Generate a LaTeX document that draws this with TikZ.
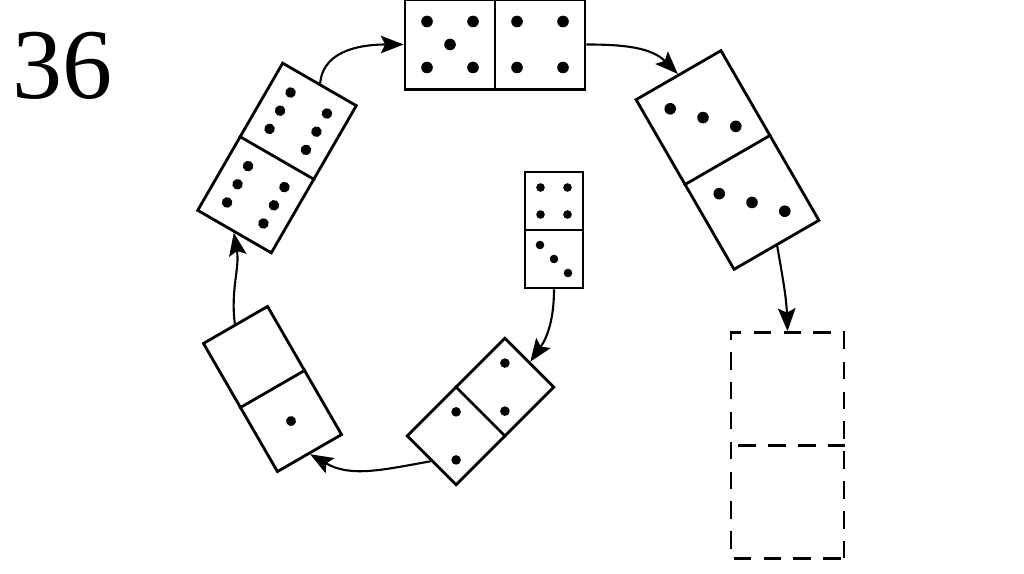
\documentclass[tikz,border=0pt]{standalone}
\usepackage{fontspec}
\setmainfont{Liberation Serif}
\usetikzlibrary{arrows.meta}

\begin{document}
\begin{tikzpicture}[
    x=0.02cm, y=0.02cm,
    >={Stealth[length=13pt,width=10pt,inset=2.5pt]},
    domino/.style={
        draw,
        line width=1.6pt,
        inner sep=0pt,
        minimum width=#1*0.04cm,
        minimum height=#1*0.02cm
    },
    blank/.style={
        domino=#1,
        dash pattern=on 10pt off 7pt
    },
    halfline/.style={
        line width=1.6pt
    },
    flow/.style={
        ->,
        line width=1.2pt
    },
    pip/.style={
        fill=black
    }
]

\useasboundingbox (0,0) rectangle (1024,-574);

\node[font=\fontsize{57}{60}\selectfont] (num) at (63,-66) {36};

%-------------------------------------------------
% Dominoes on the ring
%-------------------------------------------------

% 5 | 4
\node[domino=90] (D54) at (495,-44.5) {};
\draw[halfline] (D54.north) -- (D54.south);
\begin{scope}[shift={(D54.center)}]
  \foreach \u/\w in {-68/23,-22/23,-45/0,-68/-23,-22/-23,
                     22/23,68/23,22/-23,68/-23}
    \fill[pip] (\u,\w) circle (5.8);
\end{scope}

% 3 | 3
\node[domino=98,rotate=-60] (D33) at (727.5,-160) {};
\draw[halfline] (D33.north) -- (D33.south);
\begin{scope}[shift={(D33.center)},rotate=-60]
  \foreach \u/\w in {73/24,49/0,25/-24,-25/24,-49/0,-73/-24}
    \fill[pip] (\u,\w) circle (5.8);
\end{scope}

% 6 | 6
\node[domino=85,rotate=60] (D66) at (277,-158) {};
\draw[halfline] (D66.north) -- (D66.south);
\begin{scope}[shift={(D66.center)},rotate=60]
  \foreach \u in {21.5,42.5,63.5,-21.5,-42.5,-63.5}
    \foreach \w in {21,-21}
      \fill[pip] (\u,\w) circle (5.3);
\end{scope}

% 2 | 2
\node[domino=69,rotate=45] (D22) at (480.5,-411.5) {};
\draw[halfline] (D22.north) -- (D22.south);
\begin{scope}[shift={(D22.center)},rotate=45]
  \foreach \u/\w in {51.5/17,17.5/-17,-17.5/17,-51.5/-17}
    \fill[pip] (\u,\w) circle (4.8);
\end{scope}

% 0 | 1
\node[domino=74,rotate=-60] (D01) at (272.5,-389) {};
\draw[halfline] (D01.north) -- (D01.south);
\fill[pip,shift={(D01.center)},rotate=-60] (37,0) circle (5);

%-------------------------------------------------
% Middle domino and the empty one
%-------------------------------------------------

% 4 | 3
\node[domino=58,rotate=-90] (D43) at (554,-230) {};
\draw[halfline] (D43.north) -- (D43.south);
\begin{scope}[shift={(D43.center)},rotate=-90]
  \foreach \u/\w in {-42.5/-13.5,-42.5/13.5,-15.5/-13.5,-15.5/13.5,
                     15/-14,29/0,43/14}
    \fill[pip] (\u,\w) circle (4.3);
\end{scope}

% ? | ?
\node[blank=113,rotate=-90] (DB) at (787.5,-445.5) {};
\draw[halfline,dash pattern=on 10pt off 7pt] (DB.north) -- (DB.south);

%-------------------------------------------------
% Arrows
%-------------------------------------------------

\draw[flow] (D66.east) to[out=85,in=180] (D54.west);
\draw[flow] (D54.east) to[out=0,in=135] (D33.west);
\draw[flow] (D33.east) to[out=-80,in=92] (DB.west);
\draw[flow] (D43.east) to[out=-90,in=55] (D22.east);
\draw[flow] (D22.west) to[out=190,in=-30] (D01.east);
\draw[flow] (D01.west) to[out=97,in=-80] (D66.west);

\end{tikzpicture}
\end{document}
